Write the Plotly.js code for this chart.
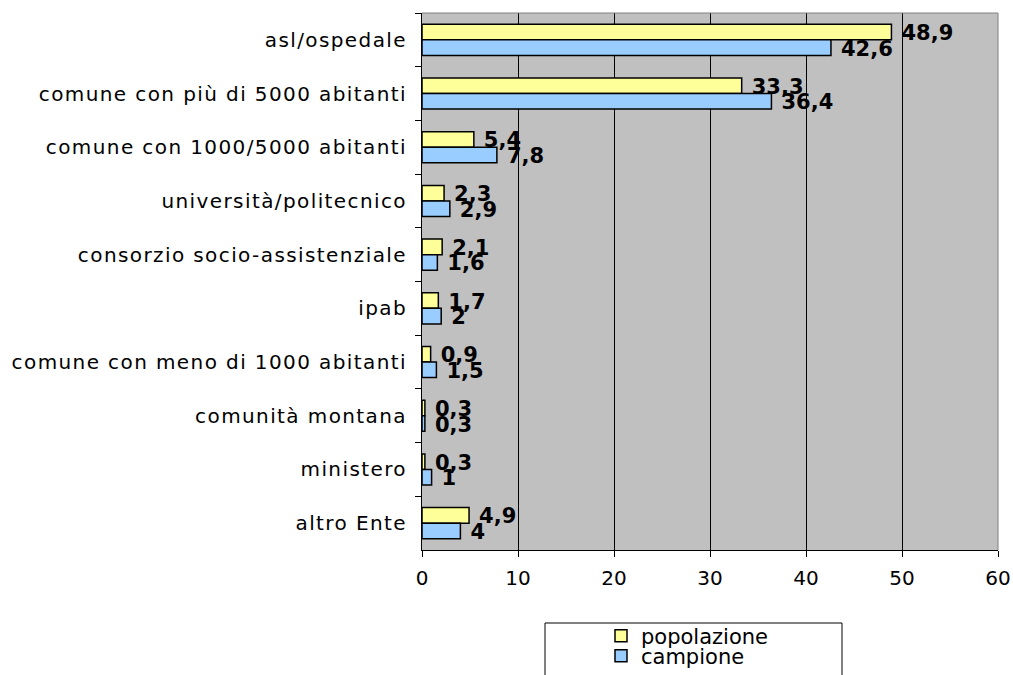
<!DOCTYPE html>
<html>
<head>
<meta charset="utf-8">
<script src="https://cdn.plot.ly/plotly-3.0.1.min.js"></script>
<style>
html,body{margin:0;padding:0;background:#fff;}
#chart{width:1013px;height:675px;}
#chart .ytick text{letter-spacing:1.4px;}
#chart text.bartext{translate:7px 1px;}
</style>
</head>
<body>
<div id="chart"></div>
<script>
const categories = ["asl/ospedale","comune con più di 5000 abitanti","comune con 1000/5000 abitanti","università/politecnico","consorzio socio-assistenziale","ipab","comune con meno di 1000 abitanti","comunità montana","ministero","altro Ente"];
const popolazione = [48.9,33.3,5.4,2.3,2.1,1.7,0.9,0.3,0.3,4.9];
const campione = [42.6,36.4,7.8,2.9,1.6,2,1.5,0.3,1,4];
const seriesNames = ["popolazione","campione"];
const xTicks = [0,10,20,30,40,50,60];

const fmt = v => String(v).replace('.', ',');
const FONT = "DejaVu Sans, Verdana, sans-serif";

function mk(name, vals, color, legendId){
  return {
    type:'bar', orientation:'h', name:name, legend:legendId,
    y:categories, x:vals,
    marker:{color:color, line:{color:'#000', width:1.5}},
    text:vals.map(fmt), textposition:'outside', cliponaxis:false, constraintext:'none',
    textangle:0,
    textfont:{family:FONT, size:21, color:'#000', weight:'bold'},
    hoverinfo:'none'
  };
}
const data = [
  mk(seriesNames[0], popolazione, '#FFFF99', 'legend'),
  mk(seriesNames[1], campione, '#99CCFF', 'legend2')
];

const L=422, R=998, T=13, B=550;
const W=1013, H=675;
const pw=R-L, ph=B-T;
const legCommon = {xanchor:'left', yanchor:'middle', orientation:'v', bgcolor:'rgba(0,0,0,0)',
  borderwidth:0, font:{family:FONT, size:21, color:'#000'}, itemwidth:30};
const layout = {
  width:W, height:H,
  margin:{l:L, r:W-R, t:T, b:H-B, pad:0, autoexpand:false},
  paper_bgcolor:'#fff', plot_bgcolor:'#C0C0C0',
  barmode:'group', bargap:0.42, bargroupgap:0,
  font:{family:FONT, size:20, color:'#000'},
  showlegend:true,
  legend:Object.assign({x:(601-L)/pw, y:(B-636)/ph}, legCommon),
  legend2:Object.assign({x:(601-L)/pw, y:(B-656)/ph}, legCommon),
  xaxis:{range:[0,60], tickvals:xTicks, ticktext:xTicks.map(String),
    showgrid:true, gridcolor:'#000', gridwidth:1, zeroline:false,
    showline:true, linecolor:'#000', linewidth:1, ticks:'outside', ticklen:6, tickcolor:'#000',
    tickfont:{family:FONT, size:20, color:'#000'}, fixedrange:true, ticklabelstandoff:4},
  yaxis:{type:'category', autorange:'reversed', showgrid:false, zeroline:false,
    showline:true, linecolor:'#000', linewidth:1, ticks:'outside', ticklen:6, tickcolor:'#000',
    tickson:'boundaries', tickfont:{family:FONT, size:20, color:'#000'}, fixedrange:true, ticklabelstandoff:10},
  shapes:[
    {type:'line', xref:'paper', yref:'paper', x0:0, x1:1, y0:1, y1:1, line:{color:'#808080', width:1}},
    {type:'line', xref:'paper', yref:'paper', x0:1, x1:1, y0:0, y1:1, line:{color:'#808080', width:1}},
    {type:'rect', xref:'paper', yref:'paper', x0:(545-L)/pw, x1:(842-L)/pw, y0:(B-690)/ph, y1:(B-623)/ph,
     line:{color:'#000', width:1}, fillcolor:'rgba(0,0,0,0)'}
  ]
};
Plotly.newPlot('chart', data, layout, {displayModeBar:false, staticPlot:true});
</script>
</body>
</html>
